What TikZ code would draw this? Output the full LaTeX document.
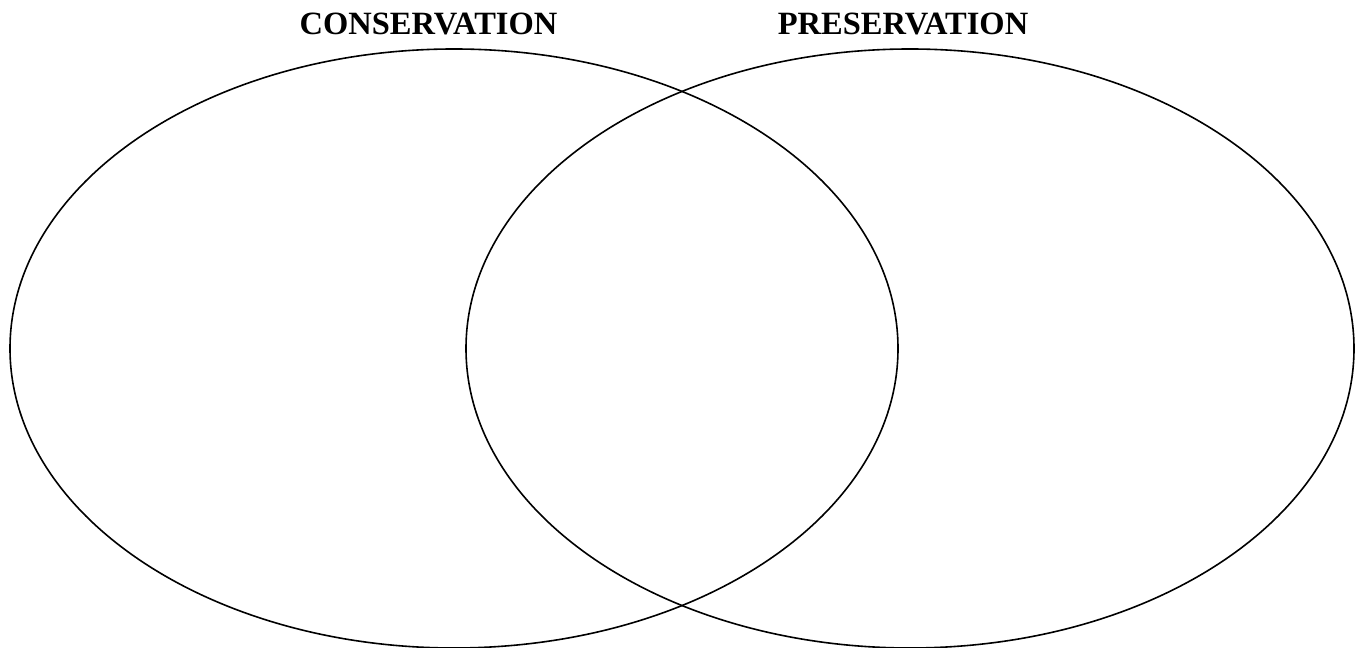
\documentclass[tikz,border=0pt]{standalone}
\usepackage{fontspec}
\setmainfont{Liberation Serif}
\usepackage{tikz}

\begin{document}
\begin{tikzpicture}[x=1pt, y=1pt, line width=1.6pt,
                        set/.style = {draw=black},
                        title/.style = {anchor=base, font=\bfseries\fontsize{32.5}{37}\selectfont}]
        \useasboundingbox (0, 0) rectangle (1358, 648);
        
        \draw[set] (454, 299.5) ellipse [x radius=444, y radius=299.5];
        \draw[set] (910, 299.5) ellipse [x radius=444, y radius=299.5];
        
        \node[title] (cons) at (428.5, 613) {CONSERVATION};
        \node[title] (pres) at (903, 613) {PRESERVATION};
    \end{tikzpicture}
\end{document}
